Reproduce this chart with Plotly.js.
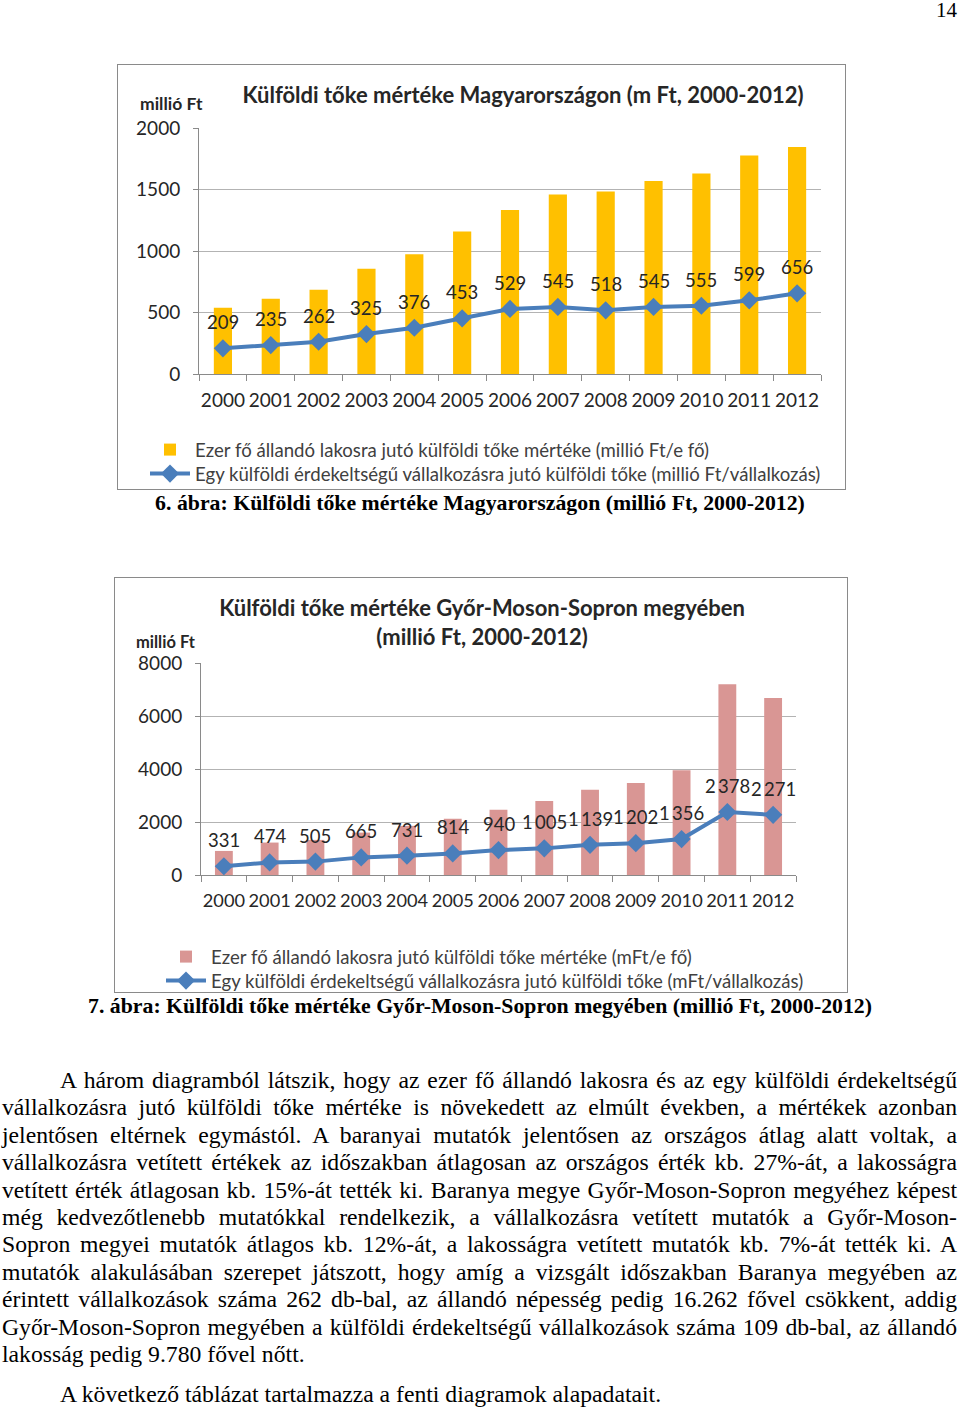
<!DOCTYPE html>
<html>
<head>
<meta charset="utf-8">
<script src="https://cdn.plot.ly/plotly-3.0.1.min.js"></script>
<style>
  html, body { margin: 0; padding: 0; background: #fff; }
  body { width: 960px; height: 1410px; position: relative; overflow: hidden; font-family: "Liberation Serif", "Times New Roman", serif; color: #000; }
  .frame { position: absolute; box-sizing: border-box; border: 1.5px solid #8a8a8a; background: #fff; }
  .cap { position: absolute; left: 0; width: 960px; text-align: center; font-weight: bold; font-size: 21.8px; line-height: 26px; }
  .pnum { position: absolute; right: 3px; top: -2px; font-size: 21px; }
  .para { position: absolute; left: 2px; width: 955px; font-size: 23.7px; }
  .para div { height: 27.4px; line-height: 27.4px; white-space: nowrap; text-align: justify; text-align-last: justify; }
  .para div.last { text-align-last: left; }
  .para div.ind { padding-left: 58px; }
</style>
</head>
<body>
<div class="pnum">14</div>
<div id="c1" class="frame" style="left:117px; top:64px; width:729px; height:426px;"></div>
<div class="cap" style="top:490px;">6. ábra: Külföldi tőke mértéke Magyarországon (millió Ft, 2000-2012)</div>
<div id="c2" class="frame" style="left:114px; top:577px; width:734px; height:416px;"></div>
<div class="cap" style="top:993px;">7. ábra: Külföldi tőke mértéke Győr-Moson-Sopron megyében (millió Ft, 2000-2012)</div>

<div class="para" style="top:1067px;">
  <div class="ind">A három diagramból látszik, hogy az ezer fő állandó lakosra és az egy külföldi érdekeltségű</div>
  <div>vállalkozásra jutó külföldi tőke mértéke is növekedett az elmúlt években, a mértékek azonban</div>
  <div>jelentősen eltérnek egymástól. A baranyai mutatók jelentősen az országos átlag alatt voltak, a</div>
  <div>vállalkozásra vetített értékek az időszakban átlagosan az országos érték kb. 27%-át, a lakosságra</div>
  <div>vetített érték átlagosan kb. 15%-át tették ki. Baranya megye Győr-Moson-Sopron megyéhez képest</div>
  <div>még kedvezőtlenebb mutatókkal rendelkezik, a vállalkozásra vetített mutatók a Győr-Moson-</div>
  <div>Sopron megyei mutatók átlagos kb. 12%-át, a lakosságra vetített mutatók kb. 7%-át tették ki. A</div>
  <div>mutatók alakulásában szerepet játszott, hogy amíg a vizsgált időszakban Baranya megyében az</div>
  <div>érintett vállalkozások száma 262 db-bal, az állandó népesség pedig 16.262 fővel csökkent, addig</div>
  <div>Győr-Moson-Sopron megyében a külföldi érdekeltségű vállalkozások száma 109 db-bal, az állandó</div>
  <div class="last">lakosság pedig 9.780 fővel nőtt.</div>
</div>
<div class="para" style="top:1381px;">
  <div class="ind last">A következő táblázat tartalmazza a fenti diagramok alapadatait.</div>
</div>

<script>
// ---------- DATA ----------
const years = ['2000','2001','2002','2003','2004','2005','2006','2007','2008','2009','2010','2011','2012'];

// Chart 1: Magyarország
const huPerPopulation = [538, 611, 685, 856, 973, 1158, 1334, 1459, 1484, 1570, 1630, 1776, 1846];
const huPerEnterprise = [209, 235, 262, 325, 376, 453, 529, 545, 518, 545, 555, 599, 656];
const huTickVals = [0, 500, 1000, 1500, 2000];

// Chart 2: Győr-Moson-Sopron
const gyPerPopulation = [908, 1224, 1325, 1600, 1855, 2120, 2461, 2789, 3218, 3470, 3950, 7195, 6680];
const gyPerEnterprise = [331, 474, 505, 665, 731, 814, 940, 1005, 1139, 1202, 1356, 2378, 2271];
const gyTickVals = [0, 2000, 4000, 6000, 8000];

const title1 = 'Külföldi tőke mértéke Magyarországon (m Ft, 2000-2012)';
const title2 = 'Külföldi tőke mértéke Győr-Moson-Sopron megyében<br>(millió Ft, 2000-2012)';
const yUnit = 'millió Ft';
const legBar1 = 'Ezer fő állandó lakosra jutó külföldi tőke mértéke (millió Ft/e fő)';
const legLine1 = 'Egy külföldi érdekeltségű vállalkozásra jutó külföldi tőke (millió Ft/vállalkozás)';
const legBar2 = 'Ezer fő állandó lakosra jutó külföldi tőke mértéke (mFt/e fő)';
const legLine2 = 'Egy külföldi érdekeltségű vállalkozásra jutó külföldi tőke (mFt/vállalkozás)';

// ---------- STYLE ----------
const FONT = 'Lato, "Open Sans", sans-serif';
const TXT = '#262626';
const BLUE = '#4a7ebb';

function fmt(v) {
  if (v >= 1000) return Math.floor(v / 1000) + '\u2009' + String(v % 1000).padStart(3, '0');
  return String(v);
}

function build(divId, o) {
  const m = o.margin;
  const pw = o.w - m.l - m.r, ph = o.h - m.t - m.b;
  // helpers: container pixel -> paper coordinate
  const px = (x) => (x - m.l) / pw;
  const py = (y) => 1 - (y - m.t) / ph;

  const bar = {
    type: 'bar', x: years, y: o.bars, name: o.legBar, legend: 'legend',
    marker: { color: o.barColor }, hoverinfo: 'skip'
  };
  const line = {
    type: 'scatter', mode: 'lines+markers', x: years, y: o.line, name: o.legLine, legend: 'legend2',
    line: { color: BLUE, width: 4 },
    marker: { symbol: 'diamond', size: 14, color: BLUE }, hoverinfo: 'skip'
  };
  // data labels: x given as category index so numeric-looking years are not misread
  const ann = o.line.map((v, i) => ({
    x: i, y: v, xref: 'x', yref: 'y', text: fmt(v),
    showarrow: false, yanchor: 'middle', yshift: 26,
    font: { family: FONT, size: 18.5, color: TXT }
  }));
  ann.push({
    xref: 'paper', yref: 'paper', x: px(o.unitX), y: py(o.unitY),
    xanchor: 'left', yanchor: 'middle', text: '<b>' + yUnit + '</b>', showarrow: false,
    font: { family: FONT, size: o.unitSize, color: TXT }
  });
  const legCommon = {
    xref: 'paper', yref: 'paper', xanchor: 'left', yanchor: 'middle', orientation: 'v',
    font: { family: FONT, size: 18.6, color: '#404040' },
    itemwidth: 40, bgcolor: 'rgba(0,0,0,0)', borderwidth: 0
  };
  const layout = {
    width: o.w, height: o.h,
    margin: Object.assign({ autoexpand: false, pad: 0 }, m),
    paper_bgcolor: 'rgba(0,0,0,0)', plot_bgcolor: 'rgba(0,0,0,0)',
    font: { family: FONT, color: TXT },
    title: {
      text: '<b>' + o.title + '</b>', xref: 'container', yref: 'container',
      x: o.titleX / o.w, y: 1 - o.titleY / o.h, xanchor: 'center', yanchor: 'middle',
      font: { family: FONT, size: 22, color: TXT }
    },
    bargap: o.bargap,
    showlegend: true,
    legend: Object.assign({}, legCommon, { x: px(o.legX), y: py(o.legY1) }),
    legend2: Object.assign({}, legCommon, { x: px(o.legX), y: py(o.legY2) }),
    xaxis: {
      type: 'category', range: [-0.5, years.length - 0.5], autorange: false,
      tickangle: 0, tickson: 'boundaries',
      ticks: 'outside', ticklen: 6, tickcolor: '#8a8a8a',
      showline: true, linecolor: '#8a8a8a', linewidth: 1,
      showgrid: false, fixedrange: true,
      tickfont: { family: FONT, size: o.xTickSize, color: TXT },
      ticklabelstandoff: 9
    },
    yaxis: {
      range: [o.tickVals[0], o.tickVals[o.tickVals.length - 1]], autorange: false,
      tickvals: o.tickVals, ticktext: o.tickVals.map(String),
      showline: true, linecolor: '#8a8a8a', linewidth: 1,
      ticks: 'outside', ticklen: 5, tickcolor: '#8a8a8a',
      showgrid: true, gridcolor: '#b3b3b3', gridwidth: 1,
      zeroline: false, fixedrange: true,
      tickfont: { family: FONT, size: 19, color: TXT },
      ticklabelstandoff: 9
    },
    annotations: ann
  };
  Plotly.newPlot(divId, [bar, line], layout, { staticPlot: true, displayModeBar: false });
}

build('c1', {
  w: 726, h: 423,
  margin: { l: 81, r: 23, t: 63, b: 114 },
  bars: huPerPopulation, line: huPerEnterprise, barColor: '#ffc000',
  tickVals: huTickVals, title: title1, titleX: 405, titleY: 30,
  unitX: 20, unitY: 38, unitSize: 17.5, xTickSize: 19,
  legBar: legBar1, legLine: legLine1, legX: 27, legY1: 385, legY2: 409,
  bargap: 0.62
});

build('c2', {
  w: 731, h: 413,
  margin: { l: 86, r: 50, t: 85, b: 116 },
  bars: gyPerPopulation, line: gyPerEnterprise, barColor: '#d99694',
  tickVals: gyTickVals, title: title2, titleX: 367, titleY: 38,
  unitX: 19, unitY: 64, unitSize: 16.5, xTickSize: 18.2,
  legBar: legBar2, legLine: legLine2, legX: 46, legY1: 379, legY2: 403,
  bargap: 0.61
});

// keep each justified paragraph line within its box
document.querySelectorAll('.para div').forEach(function (d) {
  let fs = parseFloat(getComputedStyle(d).fontSize);
  let guard = 0;
  while (d.scrollWidth > d.clientWidth + 0.5 && guard < 40) {
    fs -= 0.1; d.style.fontSize = fs + 'px'; guard++;
  }
});
</script>
</body>
</html>
